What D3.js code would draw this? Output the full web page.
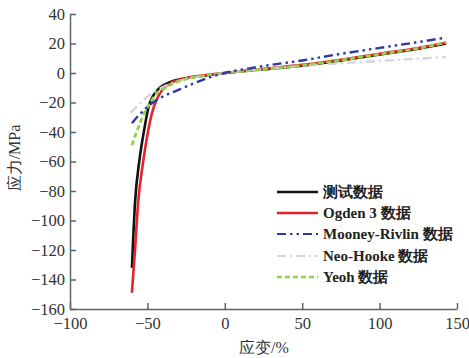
<!DOCTYPE html>
<html>
<head>
<meta charset="utf-8">
<script src="https://cdn.jsdelivr.net/npm/d3@7"></script>
<style>
  body { margin: 0; background: #fff; }
</style>
</head>
<body>
<script>
// strain (%) and stress (MPa)
const testX   = [-60, -58, -55, -52, -49, -46, -42, -35, -25, -15, 0, 25, 50, 75, 100, 125, 143];
const testY   = [-132, -88, -58, -38, -22, -15, -10, -6, -3.5, -2, 0, 2.5, 5, 8.5, 12.5, 16.5, 20];
const ogdenX  = [-60, -58, -56, -53, -50, -47, -44, -40, -35, -25, -15, 0, 25, 50, 75, 100, 125, 143];
const ogdenY  = [-149, -120, -88, -62, -42, -27, -18, -11, -7, -3.5, -1.8, 0, 2.8, 5.5, 9, 13, 17, 20.5];
const mooneyX = [-60, -55, -50, -45, -40, -30, -20, -10, 0, 15, 30, 50, 75, 100, 125, 143];
const mooneyY = [-34, -28, -23, -19, -16, -11.5, -7, -3, 0, 3, 5.5, 8.5, 13, 17, 21, 24];
const neoX    = [-61, -55, -50, -45, -40, -30, -20, -10, 0, 25, 50, 75, 100, 125, 143];
const neoY    = [-27, -21, -16, -12.5, -9.5, -5.5, -3, -1.3, 0, 2.6, 4.8, 6.6, 8.2, 9.7, 10.8];
const yeohX   = [-60, -57, -54, -51, -48, -45, -40, -35, -25, -15, 0, 25, 50, 75, 100, 125, 143];
const yeohY   = [-49, -40, -32, -25, -20, -15, -11, -8, -4, -2, 0, 2.5, 5.2, 8.7, 12.7, 16.7, 20.8];

const seriesNames = ["测试数据", "Ogden 3 数据", "Mooney-Rivlin 数据", "Neo-Hooke 数据", "Yeoh 数据"];
const xTicks = [-100, -50, 0, 50, 100, 150];
const yTicks = [40, 20, 0, -20, -40, -60, -80, -100, -120, -140, -160];

const W = 469, H = 358;
const margin = {left: 70, right: 457, top: 14, bottom: 309};
const serif = "Liberation Serif, serif";

const svg = d3.select("body").append("svg")
  .attr("width", W).attr("height", H)
  .attr("font-family", serif);

const x = d3.scaleLinear().domain([-100, 150]).range([margin.left, margin.right]);
const y = d3.scaleLinear().domain([-160, 40]).range([margin.bottom, margin.top]);

const axisColor = "#5b6468";

// x axis, ticks pointing inward
const gx = svg.append("g")
  .attr("transform", `translate(0,${margin.bottom})`)
  .call(d3.axisBottom(x).tickValues(xTicks).tickSizeInner(-6).tickSizeOuter(0).tickPadding(8))
  .attr("font-family", serif)
  .attr("font-size", 16.5);
gx.selectAll("text").attr("dy", "0.71em").attr("fill", "#333");

// y axis
const gy = svg.append("g")
  .attr("transform", `translate(${margin.left},0)`)
  .call(d3.axisLeft(y).tickValues(yTicks).tickSizeInner(-6).tickSizeOuter(0).tickPadding(5))
  .attr("font-family", serif)
  .attr("font-size", 16.5);
gy.selectAll("text").attr("fill", "#333");

svg.selectAll(".domain, .tick line")
  .attr("stroke", axisColor).attr("stroke-width", 1.5);

// axis labels
svg.append("text")
  .attr("x", 264).attr("y", 353)
  .attr("text-anchor", "middle")
  .attr("font-size", 16).attr("fill", "#333")
  .text("应变/%");

svg.append("text")
  .attr("transform", "translate(20,158) rotate(-90)")
  .attr("text-anchor", "middle")
  .attr("font-size", 16).attr("fill", "#333")
  .text("应力/MPa");

// curves
const series = [
  { xs: testX,   ys: testY,   color: "#111111", dash: null,              w: 2.6 },
  { xs: ogdenX,  ys: ogdenY,  color: "#e5232b", dash: null,              w: 2.6 },
  { xs: neoX,    ys: neoY,    color: "#d6d6d6", dash: "9,4,2,4",         w: 2.4 },
  { xs: yeohX,   ys: yeohY,   color: "#93d14c", dash: "5,3",             w: 2.8 },
  { xs: mooneyX, ys: mooneyY, color: "#2b3aa3", dash: "9,4,2.5,4,2.5,4", w: 2.4 }
];

const line = d3.line()
  .x(d => x(d[0]))
  .y(d => y(d[1]))
  .curve(d3.curveMonotoneX);

series.forEach(s => {
  svg.append("path")
    .datum(s.xs.map((v, i) => [v, s.ys[i]]))
    .attr("d", line)
    .attr("fill", "none")
    .attr("stroke", s.color)
    .attr("stroke-width", s.w)
    .attr("stroke-dasharray", s.dash);
});

// legend
const legendStyles = [
  { color: "#111111", dash: null,              w: 2.6 },
  { color: "#e5232b", dash: null,              w: 2.6 },
  { color: "#2b3aa3", dash: "9,4,2.5,4,2.5,4", w: 2.2 },
  { color: "#d6d6d6", dash: "9,4,2,4",         w: 2.2 },
  { color: "#93d14c", dash: "5,3",             w: 2.4 }
];
const legendY = [192, 213, 234, 256, 277];

const lg = svg.append("g");
seriesNames.forEach((name, i) => {
  lg.append("line")
    .attr("x1", 277).attr("x2", 318)
    .attr("y1", legendY[i]).attr("y2", legendY[i])
    .attr("stroke", legendStyles[i].color)
    .attr("stroke-width", legendStyles[i].w)
    .attr("stroke-dasharray", legendStyles[i].dash);
  lg.append("text")
    .attr("x", 323).attr("y", legendY[i])
    .attr("dy", "0.35em")
    .attr("font-size", 15)
    .attr("font-weight", "bold")
    .attr("fill", "#222")
    .text(name);
});
</script>
</body>
</html>
